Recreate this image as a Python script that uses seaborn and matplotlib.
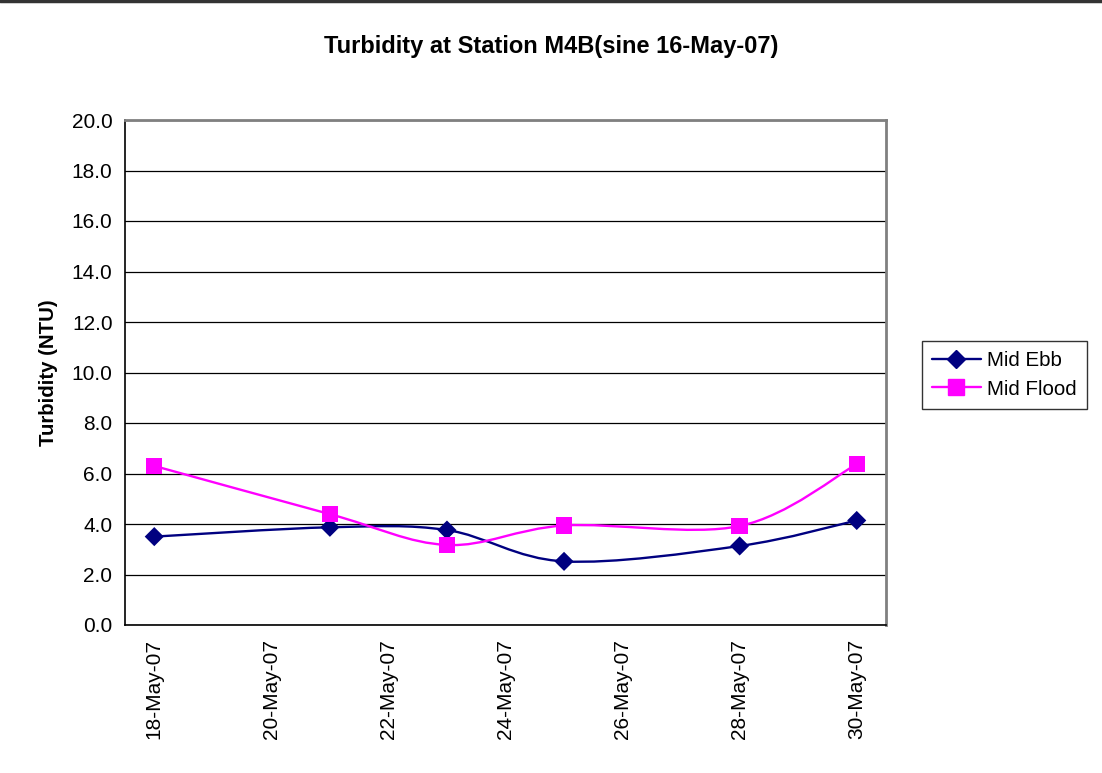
import numpy as np
import pandas as pd
import matplotlib
matplotlib.use("Agg")
import matplotlib.pyplot as plt
import matplotlib.dates as mdates
from matplotlib.path import Path
from matplotlib.patches import PathPatch
from matplotlib.lines import Line2D
import seaborn as sns

# data
dates = ["2007-05-18", "2007-05-21", "2007-05-23", "2007-05-25", "2007-05-28", "2007-05-30"]
mid_ebb = [3.50, 3.87, 3.76, 2.52, 3.13, 4.14]
mid_flood = [6.30, 4.39, 3.17, 3.94, 3.92, 6.37]
series_names = ["Mid Ebb", "Mid Flood"]
label_dates = ["2007-05-18", "2007-05-20", "2007-05-22", "2007-05-24",
               "2007-05-26", "2007-05-28", "2007-05-30"]

df = pd.DataFrame({"date": pd.to_datetime(dates * 2),
                   "value": mid_ebb + mid_flood,
                   "series": [series_names[0]] * len(dates) + [series_names[1]] * len(dates)})

colors = {"Mid Ebb": "#000080", "Mid Flood": "#FF00FF"}
markers = {"Mid Ebb": "D", "Mid Flood": "s"}
msizes = {"Mid Ebb": 95, "Mid Flood": 140}

sns.set_style("white")
plt.rcParams["font.family"] = ["Liberation Sans", "DejaVu Sans"]
plt.rcParams["text.color"] = "black"
plt.rcParams["axes.labelcolor"] = "black"
plt.rcParams["xtick.color"] = "black"
plt.rcParams["ytick.color"] = "black"

fig = plt.figure(figsize=(11.02, 7.73), dpi=100)
ax = fig.add_axes([125 / 1102, 148 / 773, 761 / 1102, 505 / 773])


def smooth_path(x, y, t=1 / 6):
    # Excel-style smoothed line: cubic bezier through the points
    x = np.asarray(x, float)
    y = np.asarray(y, float)
    pts = np.column_stack([x, y])
    n = len(pts)
    verts = [pts[0]]
    codes = [Path.MOVETO]
    for i in range(n - 1):
        p0 = pts[i - 1] if i > 0 else pts[i]
        p1 = pts[i]
        p2 = pts[i + 1]
        p3 = pts[i + 2] if i + 2 < n else pts[i + 1]
        c1 = p1 + (p2 - p0) * t
        c2 = p2 - (p3 - p1) * t
        verts += [c1, c2, p2]
        codes += [Path.CURVE4] * 3
    return Path(verts, codes)


xnum = mdates.date2num(pd.to_datetime(dates))
for name, vals in zip(series_names, [mid_ebb, mid_flood]):
    patch = PathPatch(smooth_path(xnum, vals), facecolor="none",
                      edgecolor=colors[name], lw=1.7, zorder=3)
    ax.add_patch(patch)

for name in series_names:
    sub = df[df["series"] == name]
    sns.scatterplot(data=sub, x="date", y="value", ax=ax, marker=markers[name],
                    color=colors[name], s=msizes[name], edgecolor="none",
                    zorder=4, legend=False)

# axes
x0 = mdates.date2num(pd.Timestamp("2007-05-17 12:00"))
x1 = mdates.date2num(pd.Timestamp("2007-05-30 12:00"))
ax.set_xlim(x0, x1)
ax.set_ylim(0, 20)
ax.set_yticks(np.arange(0, 20.1, 2))
ax.set_yticklabels([f"{v:.1f}" for v in np.arange(0, 20.1, 2)])
lab = mdates.date2num(pd.to_datetime(label_dates))
ax.set_xticks(lab)
ax.set_xticklabels([pd.Timestamp(d).strftime("%d-%b-%y") for d in label_dates],
                   rotation=90)
ax.set_xticks(lab - 0.5, minor=True)
ax.tick_params(axis="x", which="major", length=0, pad=10, labelsize=15)
ax.tick_params(axis="x", which="minor", length=6, width=1, direction="out", color="black")
ax.tick_params(axis="y", length=6, width=1, direction="out", color="black",
               labelsize=15, pad=3)
ax.yaxis.grid(True, color="black", lw=0.9)
ax.set_axisbelow(True)
for s in ["left", "bottom"]:
    ax.spines[s].set_color("black")
    ax.spines[s].set_linewidth(1.2)
for s in ["top", "right"]:
    ax.spines[s].set_color("#808080")
    ax.spines[s].set_linewidth(2)
ax.set_xlabel("")
ax.set_ylabel("Turbidity (NTU)", fontsize=14.7, fontweight="bold", labelpad=10)
fig.suptitle("Turbidity at Station M4B(sine 16-May-07)", fontsize=17,
             fontweight="bold", x=0.5, y=1 - 47 / 773, va="center")

handles = [Line2D([], [], color=colors[n], marker=markers[n], lw=1.7,
                  markersize=9 if n == "Mid Ebb" else 11) for n in series_names]
leg = fig.legend(handles, series_names, loc="upper left",
                 bbox_to_anchor=(922 / 1102, 1 - 341 / 773), fontsize=14.8,
                 frameon=True, fancybox=False, edgecolor="black",
                 handlelength=2.35, handletextpad=0.3, borderpad=0.5,
                 labelspacing=0.45, borderaxespad=0)
leg.get_frame().set_linewidth(1)

fig.add_artist(Line2D([0, 1], [0.9985, 0.9985], color="#333333", lw=2.5,
                      transform=fig.transFigure))

fig.savefig("out.png", dpi=100)
